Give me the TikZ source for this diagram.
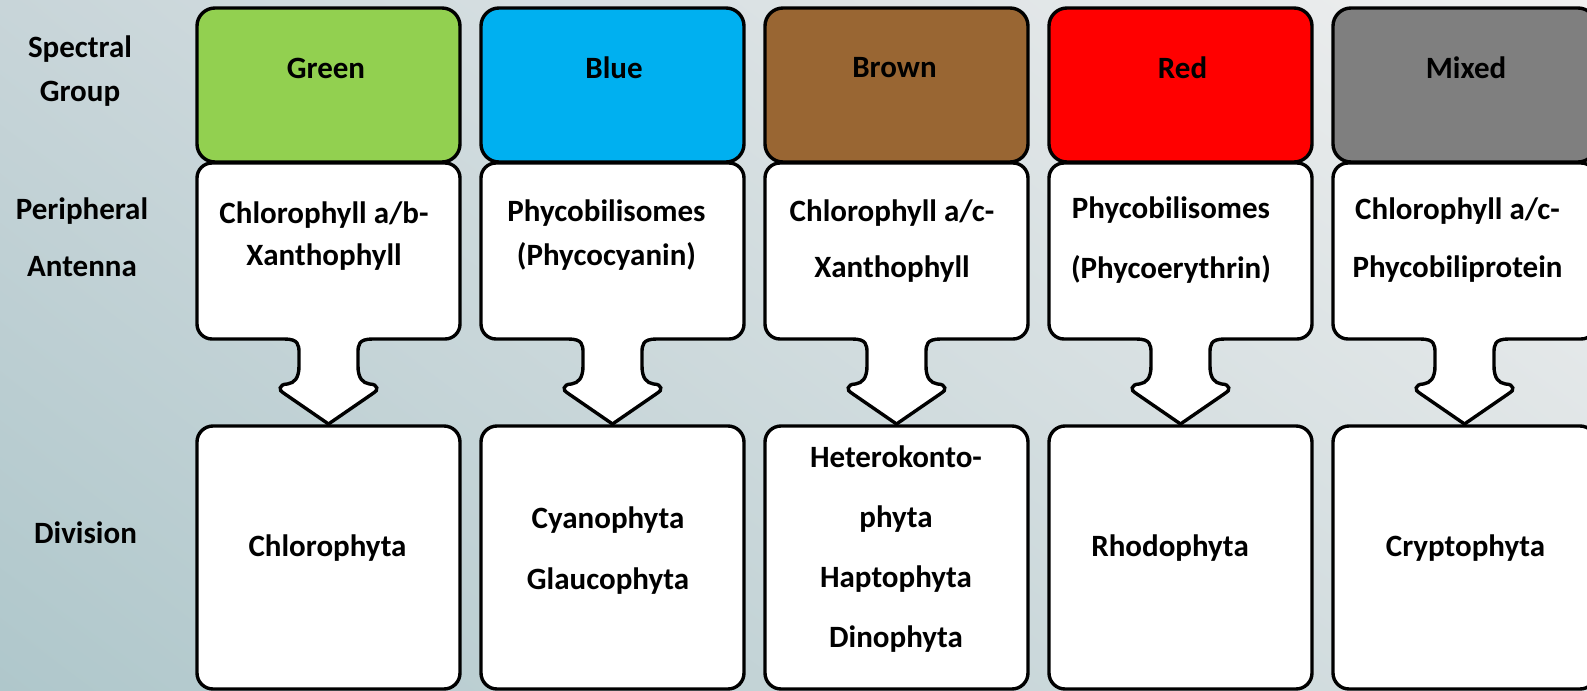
\documentclass[tikz,border=0pt]{standalone}
\usepackage{fontspec}
\setmainfont{Carlito}
\usepackage{tikz}
\usetikzlibrary{shadings}

\definecolor{greengroup}{HTML}{92D050}
\definecolor{bluegroup}{HTML}{00B0F0}
\definecolor{browngroup}{HTML}{996633}
\definecolor{redgroup}{HTML}{FF0000}
\definecolor{mixedgroup}{HTML}{7F7F7F}
\definecolor{bgul}{HTML}{C8D5D9}
\definecolor{bgur}{HTML}{F0F0F0}
\definecolor{bgll}{HTML}{AFC7CB}
\definecolor{bglr}{HTML}{D8E0E2}

\tikzset{
  groupbox/.style={draw, line width=1.7pt, rounded corners=9pt,
    minimum width=131.5pt, minimum height=77pt, inner sep=0pt},
  divbox/.style={draw, fill=white, line width=1.7pt, rounded corners=8pt,
    minimum width=131.5pt, minimum height=131.5pt, inner sep=0pt},
  antennabox/.style={draw, fill=white, line width=1.7pt},
  txt/.style={font=\bfseries\fontsize{15.5pt}{19pt}\selectfont,
    align=center, inner sep=0pt},
  antenna/.pic={
    \path[antennabox] (-131.5,200) [rounded corners=7.5pt] -- (-131.5,163)
      -- (131.5,163) -- (131.5,339) -- (60,339) [sharp corners] -- (44,339)
      .. controls (30,339) and (29.5,345) .. (29.5,353) -- (29.5,366)
      .. controls (29.5,378) and (34,383) .. (41,384)
      .. controls (50,384) and (50,391) .. (45,393) -- (0,424) -- (-45,393)
      .. controls (-50,391) and (-50,384) .. (-41,384)
      .. controls (-34,383) and (-29.5,378) .. (-29.5,366) -- (-29.5,353)
      .. controls (-29.5,345) and (-30,339) .. (-44,339) -- (-60,339)
      [rounded corners=7.5pt] -- (-131.5,339) -- cycle;
  }
}

\begin{document}
\begin{tikzpicture}[x=0.5pt, y=-0.5pt]
  \useasboundingbox (0,0) rectangle (1587,691);
  \clip (0,0) rectangle (1587,691);
  % Background
  \shade[upper left=bgul, upper right=bgur, lower left=bgll, lower right=bglr]
    (0,0) rectangle (1587,691);

  % Spectral groups
  \node[groupbox, fill=greengroup] (green) at (328.5,85) {};
  \node[groupbox, fill=bluegroup] (blue) at (612.5,85) {};
  \node[groupbox, fill=browngroup] (brown) at (896.5,85) {};
  \node[groupbox, fill=redgroup] (red) at (1180.5,85) {};
  \node[groupbox, fill=mixedgroup] (mixed) at (1464.5,85) {};

  % Peripheral antennas
  \pic (greenant) at (328.5,0) {antenna};
  \pic (blueant) at (612.5,0) {antenna};
  \pic (brownant) at (896.5,0) {antenna};
  \pic (redant) at (1180.5,0) {antenna};
  \pic (mixedant) at (1464.5,0) {antenna};

  % Divisions
  \node[divbox] (greendiv) at (328.5,557.5) {};
  \node[divbox] (bluediv) at (612.5,557.5) {};
  \node[divbox] (browndiv) at (896.5,557.5) {};
  \node[divbox] (reddiv) at (1180.5,557.5) {};
  \node[divbox] (mixeddiv) at (1464.5,557.5) {};

  % Row labels
  \node[txt] (spectral) at (80,71) {Spectral\\[3.2pt]Group};
  \node[txt] (peripheral) at (82,237) {Peripheral\\[9.75pt]Antenna};
  \node[txt] (division) at (85.5,533) {Division};

  % Texts
  \node[txt] (green-t) at (326,68) {Green};
  \node[txt] (blue-t) at (614,68) {Blue};
  \node[txt] (brown-t) at (894.5,68) {Brown};
  \node[txt] (red-t) at (1182.5,68) {Red};
  \node[txt] (mixed-t) at (1466,68) {Mixed};

  \node[txt] (greenant-t) at (324,236) {Chlorophyll a/b-\\[1.75pt]Xanthophyll};
  \node[txt] (blueant-t) at (606.5,235) {Phycobilisomes\\[2.75pt](Phycocyanin)};
  \node[txt] (brownant-t) at (892,241) {Chlorophyll a/c-\\[8.75pt]Xanthophyll};
  \node[txt] (redant-t) at (1171,240) {Phycobilisomes\\[10.75pt](Phycoerythrin)};
  \node[txt] (mixedant-t) at (1457.5,240) {Chlorophyll a/c-\\[9.75pt]Phycobiliprotein};

  \node[txt] (greendiv-t) at (327.5,548.5) {Chlorophyta};
  \node[txt] (bluediv-t) at (608,550.5) {Cyanophyta\\[11.5pt]Glaucophyta};
  \node[txt] (browndiv-t) at (896,549) {Heterokonto-\\[10.9pt]phyta\\[10.9pt]Haptophyta\\[10.9pt]Dinophyta};
  \node[txt] (reddiv-t) at (1170,548.5) {Rhodophyta};
  \node[txt] (mixeddiv-t) at (1465.5,548.5) {Cryptophyta};
\end{tikzpicture}
\end{document}
